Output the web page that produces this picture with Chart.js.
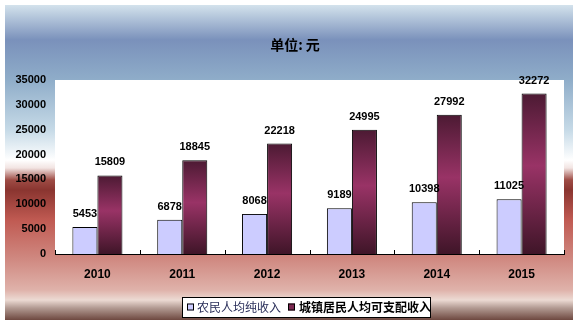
<!DOCTYPE html>
<html><head><meta charset="utf-8">
<script src="https://cdn.jsdelivr.net/npm/chart.js@4/dist/chart.umd.min.js"></script>
<style>html,body{margin:0;padding:0;background:#fff}#wrap{width:580px;height:326px}</style>
</head><body><div id="wrap"><canvas id="c" width="580" height="326"></canvas></div>
<script>
const categories = ['2010','2011','2012','2013','2014','2015'];
const ruralIncome = [5453, 6878, 8068, 9189, 10398, 11025];
const urbanIncome = [15809, 18845, 22218, 24995, 27992, 32272];
const seriesNames = ['农民人均纯收入', '城镇居民人均可支配收入'];
const titleText = '单位: 元';
const yMax = 35000, yStep = 5000;

const bgPlugin = {
  id: 'bg',
  beforeDraw(chart) {
    const ctx = chart.ctx, ca = chart.chartArea;
    ctx.save();
    ctx.fillStyle = '#ffffff';
    ctx.fillRect(0, 0, chart.width, chart.height);
    const x0 = 5, y0 = 5, x1 = 573, y1 = 320;
    const g = ctx.createLinearGradient(0, y0, 0, y1);
    const H = y1 - y0;
    const st = (y, c) => g.addColorStop(Math.min(1, Math.max(0, (y - y0) / H)), c);
    st(5, '#d3e2ec'); st(40, '#7a91bb'); st(80, '#8fadc9'); st(130, '#c6dae7');
    st(160, '#ffffff'); st(168, '#f2e4e2'); st(180, '#9e4c45'); st(190, '#8a3530');
    st(220, '#c05a52'); st(260, '#d08a82'); st(290, '#dfb2aa'); st(300, '#ecdad3');
    st(308, '#b29a92'); st(320, '#6e4840');
    ctx.fillStyle = g;
    ctx.fillRect(x0, y0, x1 - x0, y1 - y0);
    ctx.fillStyle = '#ffffff';
    ctx.fillRect(ca.left, ca.top, ca.right - ca.left, ca.bottom - ca.top);
    // title
    ctx.fillStyle = '#000';
    ctx.font = 'bold 14px "Noto Sans CJK SC", sans-serif';
    ctx.textAlign = 'center'; ctx.textBaseline = 'middle';
    ctx.fillText(titleText, 295, 45);
    ctx.restore();
  },
  afterDraw(chart) {
    const ctx = chart.ctx, ca = chart.chartArea, xs = chart.scales.x;
    ctx.save();
    // category boundary ticks
    ctx.strokeStyle = '#000'; ctx.lineWidth = 1;
    const n = categories.length;
    for (let i = 0; i <= n; i++) {
      let x;
      if (i === 0) x = ca.left; else if (i === n) x = ca.right;
      else x = (xs.getPixelForValue(i - 1) + xs.getPixelForValue(i)) / 2;
      x = Math.round(x) + 0.5;
      ctx.beginPath(); ctx.moveTo(x, ca.bottom); ctx.lineTo(x, ca.bottom - 4); ctx.stroke();
    }
    // data labels
    ctx.fillStyle = '#000';
    ctx.font = 'bold 11px "Liberation Sans", Arial, sans-serif';
    ctx.textAlign = 'center'; ctx.textBaseline = 'middle';
    chart.data.datasets.forEach((ds, di) => {
      const meta = chart.getDatasetMeta(di);
      meta.data.forEach((bar, i) => {
        ctx.fillText(String(ds.data[i]), bar.x, bar.y - 13);
      });
    });
    // legend
    const lx = 182, ly = 297, lw = 248, lh = 20;
    ctx.fillStyle = '#fff';
    ctx.fillRect(lx, ly, lw, lh);
    ctx.strokeStyle = '#000'; ctx.lineWidth = 1;
    ctx.strokeRect(lx + 0.5, ly + 0.5, lw, lh);
    const cy = ly + lh / 2 + 0.5;
    const colors = ['#ccccff', '#7a2850'];
    const mx = [187, 288], tx = [197, 299];
    ctx.textAlign = 'left';
    for (let k = 0; k < 2; k++) {
      ctx.fillStyle = colors[k];
      ctx.fillRect(mx[k], cy - 4, 7, 7);
      ctx.strokeStyle = '#000';
      ctx.strokeRect(mx[k] + 0.5, cy - 3.5, 6, 6);
      ctx.fillStyle = k === 0 ? '#2a2f5a' : '#000';
      ctx.font = (k === 0 ? '' : 'bold ') + '12px "Noto Sans CJK SC", sans-serif';
      ctx.fillText(seriesNames[k], tx[k], cy);
    }
    ctx.restore();
  }
};

function urbanGradient(context) {
  const chart = context.chart;
  const ca = chart.chartArea;
  if (!ca || context.type !== 'data') return '#993366';
  const top = chart.scales.y.getPixelForValue(context.raw);
  const g = chart.ctx.createLinearGradient(0, top, 0, ca.bottom);
  g.addColorStop(0, '#4c1a33');
  g.addColorStop(0.45, '#993366');
  g.addColorStop(1, '#3f1528');
  return g;
}

new Chart(document.getElementById('c'), {
  type: 'bar',
  data: {
    labels: categories,
    datasets: [
      { label: seriesNames[0], data: ruralIncome, backgroundColor: '#ccccff', borderColor: '#000', borderWidth: 1, borderSkipped: 'bottom' },
      { label: seriesNames[1], data: urbanIncome, backgroundColor: urbanGradient, borderColor: '#000', borderWidth: 1, borderSkipped: 'bottom' }
    ]
  },
  options: {
    responsive: false,
    animation: false,
    events: [],
    layout: { padding: { left: 5, right: 16, top: 80, bottom: 0 } },
    plugins: { legend: { display: false }, title: { display: false }, tooltip: { enabled: false } },
    datasets: { bar: { categoryPercentage: 0.59, barPercentage: 1.0 } },
    scales: {
      x: {
        grid: { display: false, drawTicks: false },
        border: { display: true, color: '#000', width: 1 },
        ticks: { color: '#000', font: { family: '"Liberation Sans", Arial, sans-serif', size: 12, weight: 'bold' }, padding: 13 },
        afterFit(s) { s.height = 72; }
      },
      y: {
        min: 0, max: yMax,
        grid: { display: false, drawTicks: false },
        border: { display: false },
        ticks: { stepSize: yStep, color: '#000', font: { family: '"Liberation Sans", Arial, sans-serif', size: 11, weight: 'bold' }, padding: 9, callback: v => String(v) },
        afterFit(s) { s.width = 50; }
      }
    }
  },
  plugins: [bgPlugin]
});
</script>
</body></html>
